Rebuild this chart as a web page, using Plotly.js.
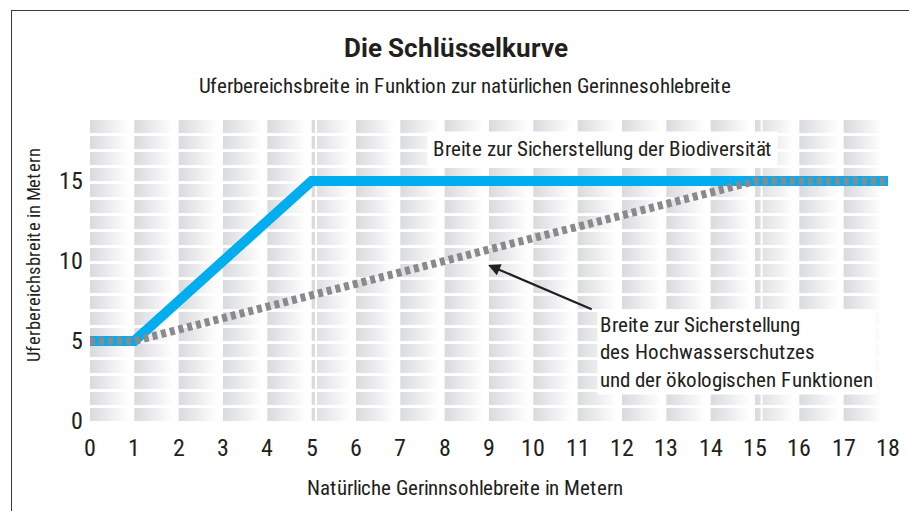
<!DOCTYPE html>
<html><head><meta charset="utf-8">
<script src="https://cdn.plot.ly/plotly-3.0.1.min.js"></script>
<style>
@font-face{font-family:'RCond';font-weight:400;src:local('Roboto Condensed'),local('RobotoCondensed-Regular'),local('Roboto Condensed Regular');}
@font-face{font-family:'RCond';font-weight:700;src:local('Roboto Condensed Bold'),local('RobotoCondensed-Bold');}
body{margin:0;background:#fff}
#wrap{position:relative;width:909px;height:511px;overflow:hidden}
#frame{position:absolute;left:11px;top:10px;width:920px;height:520px;border-top:1.5px solid #3a3a3a;border-left:1.5px solid #3a3a3a;pointer-events:none}
</style>
</head><body>
<div id="wrap"><div id="chart" style="width:909px;height:511px"></div><div id="frame"></div></div>
<script>
// ---- data ----
const xTickVals = [0,1,2,3,4,5,6,7,8,9,10,11,12,13,14,15,16,17,18];
const yTickVals = [0,5,10,15];
const biodivX = [0, 1, 5, 18];
const biodivY = [5, 5, 15, 15];
const floodX = [0, 1, 15, 18];
const floodY = [5, 5, 15, 15];
const gridCols = [0,1,2,3,4,5,6,7,8,9,10,11,12,13,14,15,16,17];
const gridRows = [0,1,2,3,4,5,6,7,8,9,10,11,12,13,14,15,16,17,18];
const breakXs = [5.1, 15.15];
const arrowHead = {x: 8.98, y: 9.75};

const FONT = 'RCond, "Roboto Condensed", "DejaVu Sans Condensed", Roboto, sans-serif';
const TXT = '#231f20';
const colW = 0.88, rowH = 0.82;
const W = 909, H = 511, ML = 90, MR = 21, MT = 117, MB = 90;
const px = x => (x - ML) / (W - ML - MR);          // pixel -> paper x
const py = y => (H - MB - y) / (H - MT - MB);      // pixel -> paper y

const traces = [];
// background gradient tiles
gridCols.forEach(k => {
  const xs = [], ys = [];
  gridRows.forEach(j => {
    xs.push(k, k+colW, k+colW, k, k, null);
    ys.push(j, j, j+rowH, j+rowH, j, null);
  });
  traces.push({
    x: xs, y: ys, type: 'scatter', mode: 'lines', fill: 'toself',
    line: {width: 0, color: 'rgba(0,0,0,0)'},
    fillgradient: {type: 'horizontal', colorscale: [[0, '#d9dadd'], [1, '#ffffff']]},
    hoverinfo: 'skip', showlegend: false
  });
});
// thin white break lines
breakXs.forEach(bx => {
  traces.push({x: [bx, bx], y: [0, gridRows.length - 1 + rowH], type: 'scatter', mode: 'lines',
    line: {color: '#ffffff', width: 2}, hoverinfo: 'skip', showlegend: false});
});
// data lines
traces.push({x: biodivX, y: biodivY, type: 'scatter', mode: 'lines',
  line: {color: '#00aeef', width: 10}, showlegend: false, hoverinfo: 'skip'});
traces.push({x: floodX, y: floodY, type: 'scatter', mode: 'lines',
  line: {color: '#8a8a8d', width: 8, dash: '5px,4px'}, showlegend: false, hoverinfo: 'skip'});

const layout = {
  width: W, height: H,
  margin: {l: ML, r: MR, t: MT, b: MB},
  paper_bgcolor: 'rgba(0,0,0,0)', plot_bgcolor: 'rgba(0,0,0,0)',
  font: {family: FONT, color: TXT},
  title: {text: '<b>Die Schlüsselkurve</b>', x: 456/W, xanchor: 'center', y: 1 - 48/H, yanchor: 'middle', yref: 'container',
    font: {family: FONT, size: 25.5, color: TXT}},
  xaxis: {range: [0, 18], showgrid: false, zeroline: false, showline: false, ticks: '',
    tickvals: xTickVals, ticktext: xTickVals.map(String), tickfont: {size: 24, family: FONT},
    ticklabelstandoff: 10},
  yaxis: {range: [0, 19], showgrid: false, zeroline: false, showline: false, ticks: '',
    tickvals: yTickVals, ticktext: yTickVals.map(String), tickfont: {size: 24, family: FONT},
    ticklabelstandoff: 6},
  annotations: [
    {text: 'Uferbereichsbreite in Funktion zur natürlichen Gerinnesohlebreite', xref: 'paper', yref: 'paper',
      x: px(465), y: py(86), xanchor: 'center', yanchor: 'middle', showarrow: false,
      font: {size: 21, family: FONT, color: TXT}},
    {text: 'Natürliche Gerinnsohlebreite in Metern', xref: 'paper', yref: 'paper',
      x: px(465), y: py(488), xanchor: 'center', yanchor: 'middle', showarrow: false,
      font: {size: 21, family: FONT, color: TXT}},
    {text: 'Uferbereichsbreite in Metern', xref: 'paper', yref: 'paper', textangle: -90,
      x: px(34), y: py(255), xanchor: 'center', yanchor: 'middle', showarrow: false,
      font: {size: 18.5, family: FONT, color: TXT}},
    {text: 'Breite zur Sicherstellung der Biodiversität', x: 11.55, y: 17.03, xref: 'x', yref: 'y',
      xanchor: 'center', yanchor: 'middle', showarrow: false, bgcolor: '#ffffff', borderpad: 5,
      font: {size: 21, family: FONT, color: TXT}},
    {text: 'Breite zur Sicherstellung<br>des Hochwasserschutzes<br>und der ökologischen Funktionen',
      x: 11.44, y: 6.94, xref: 'x', yref: 'y', xanchor: 'left', yanchor: 'top', align: 'left',
      showarrow: false, bgcolor: '#ffffff', borderpad: 2,
      font: {size: 21, family: FONT, color: TXT}},
    {text: '', x: arrowHead.x, y: arrowHead.y, xref: 'x', yref: 'y', showarrow: true,
      ax: 105, ay: 45, arrowhead: 2, arrowsize: 1.1, arrowwidth: 2.2, arrowcolor: TXT}
  ]
};
Plotly.newPlot('chart', traces, layout, {staticPlot: true, displayModeBar: false});
</script>
</body></html>
